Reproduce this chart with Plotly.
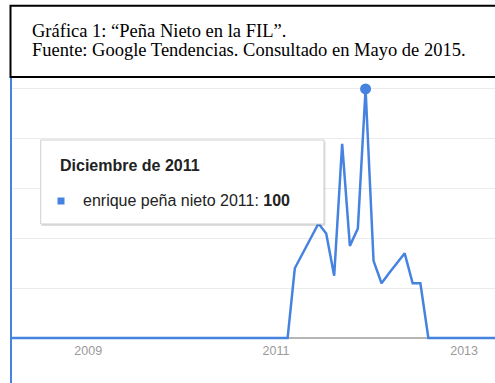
import plotly.graph_objects as go
import pandas as pd

W, H = 495, 383

# ---- data (monthly search interest, Google Trends) ----
months = pd.date_range("2008-01-01", periods=65, freq="MS") + pd.Timedelta(days=14)
values = [
    0, 0, 0, 0, 0, 0, 0, 0, 0, 0, 0, 0,          # 2008
    0, 0, 0, 0, 0, 0, 0, 0, 0, 0, 0, 0,          # 2009
    0, 0, 0, 0, 0, 0, 0, 0, 0, 0, 0, 0,          # 2010
    0, 0, 28, 34, 40, 46, 42, 25, 78, 37, 44, 100,  # 2011
    31, 22, 26, 30, 34, 22, 22, 0, 0, 0, 0, 0,   # 2012
    0, 0, 0, 0, 0,                               # 2013
]
peak_date = ["2011-12-15"]
peak_value = [100]
tick_vals = ["2009-01-01", "2011-01-01", "2013-01-01"]
tick_text = ["2009", "2011", "2013"]

title_line1 = "Gráfica 1: “Peña Nieto en la FIL”."
title_line2 = "Fuente: Google Tendencias. Consultado en Mayo de 2015."
tip_title = "Diciembre de 2011"
tip_text = "enrique peña nieto 2011: <b>100</b>"

BLUE = "#4683E0"


def px(x):
    return x / W


def py(y):
    return 1 - y / H


fig = go.Figure()
fig.add_trace(go.Scatter(x=months, y=values, mode="lines",
                         line=dict(color=BLUE, width=2.5), hoverinfo="skip"))
fig.add_trace(go.Scatter(x=peak_date, y=peak_value, mode="markers",
                         marker=dict(color=BLUE, size=11), cliponaxis=False,
                         hoverinfo="skip"))

shapes = [
    # title box
    dict(type="rect", xref="paper", yref="paper", x0=px(10.5), x1=px(520),
         y0=py(5.7), y1=py(77), line=dict(color="black", width=2),
         fillcolor="white", layer="above"),
    # left blue frame line
    dict(type="line", xref="paper", yref="paper", x0=px(11), x1=px(11),
         y0=py(78), y1=py(390), line=dict(color=BLUE, width=2), layer="above"),
    # tooltip shadow
    dict(type="rect", xref="paper", yref="paper", x0=px(41.5), x1=px(325.5),
         y0=py(141.5), y1=py(226), line=dict(width=0),
         fillcolor="rgba(0,0,0,0.13)", layer="above"),
    # tooltip box
    dict(type="rect", xref="paper", yref="paper", x0=px(40.7), x1=px(324),
         y0=py(140), y1=py(224), line=dict(color="#cfcfcf", width=1),
         fillcolor="white", layer="above"),
    # legend square
    dict(type="rect", xref="paper", yref="paper", x0=px(57.5), x1=px(64.5),
         y0=py(197.5), y1=py(204.5), line=dict(width=0),
         fillcolor=BLUE, layer="above"),
]

annotations = [
    dict(text=title_line1, x=px(30), y=py(30.5), xref="paper", yref="paper",
         xanchor="left", yanchor="middle", showarrow=False,
         font=dict(family="Liberation Serif, Times New Roman", size=18.5, color="black")),
    dict(text=title_line2, x=px(30), y=py(50), xref="paper", yref="paper",
         xanchor="left", yanchor="middle", showarrow=False,
         font=dict(family="Liberation Serif, Times New Roman", size=18.5, color="black")),
    dict(text="<b>" + tip_title + "</b>", x=px(58), y=py(165), xref="paper", yref="paper",
         xanchor="left", yanchor="middle", showarrow=False,
         font=dict(family="Liberation Sans, Arial", size=16, color="#222222")),
    dict(text=tip_text, x=px(80.5), y=py(201), xref="paper", yref="paper",
         xanchor="left", yanchor="middle", showarrow=False,
         font=dict(family="Liberation Sans, Arial", size=16, color="#222222")),
]

fig.update_layout(
    width=W, height=H,
    margin=dict(l=0, r=0, t=0, b=0),
    paper_bgcolor="white", plot_bgcolor="white",
    showlegend=False,
    shapes=shapes, annotations=annotations,
    xaxis=dict(domain=[px(11), 1], type="date",
               range=["2008-03-07", "2013-05-01"],
               tickvals=tick_vals, ticktext=tick_text,
               showgrid=False, zeroline=False, showline=False, ticks="",
               tickfont=dict(family="Liberation Sans, Arial", size=12.5, color="#9a9a9a")),
    yaxis=dict(domain=[py(341), py(78)], range=[-1.2, 104.4],
               tick0=0, dtick=20, showticklabels=False, ticks="",
               showgrid=True, gridcolor="#ebebeb", gridwidth=1,
               zeroline=True, zerolinecolor="#b5b5b5", zerolinewidth=1.5,
               showline=False),
)

fig.write_html("out.html")
